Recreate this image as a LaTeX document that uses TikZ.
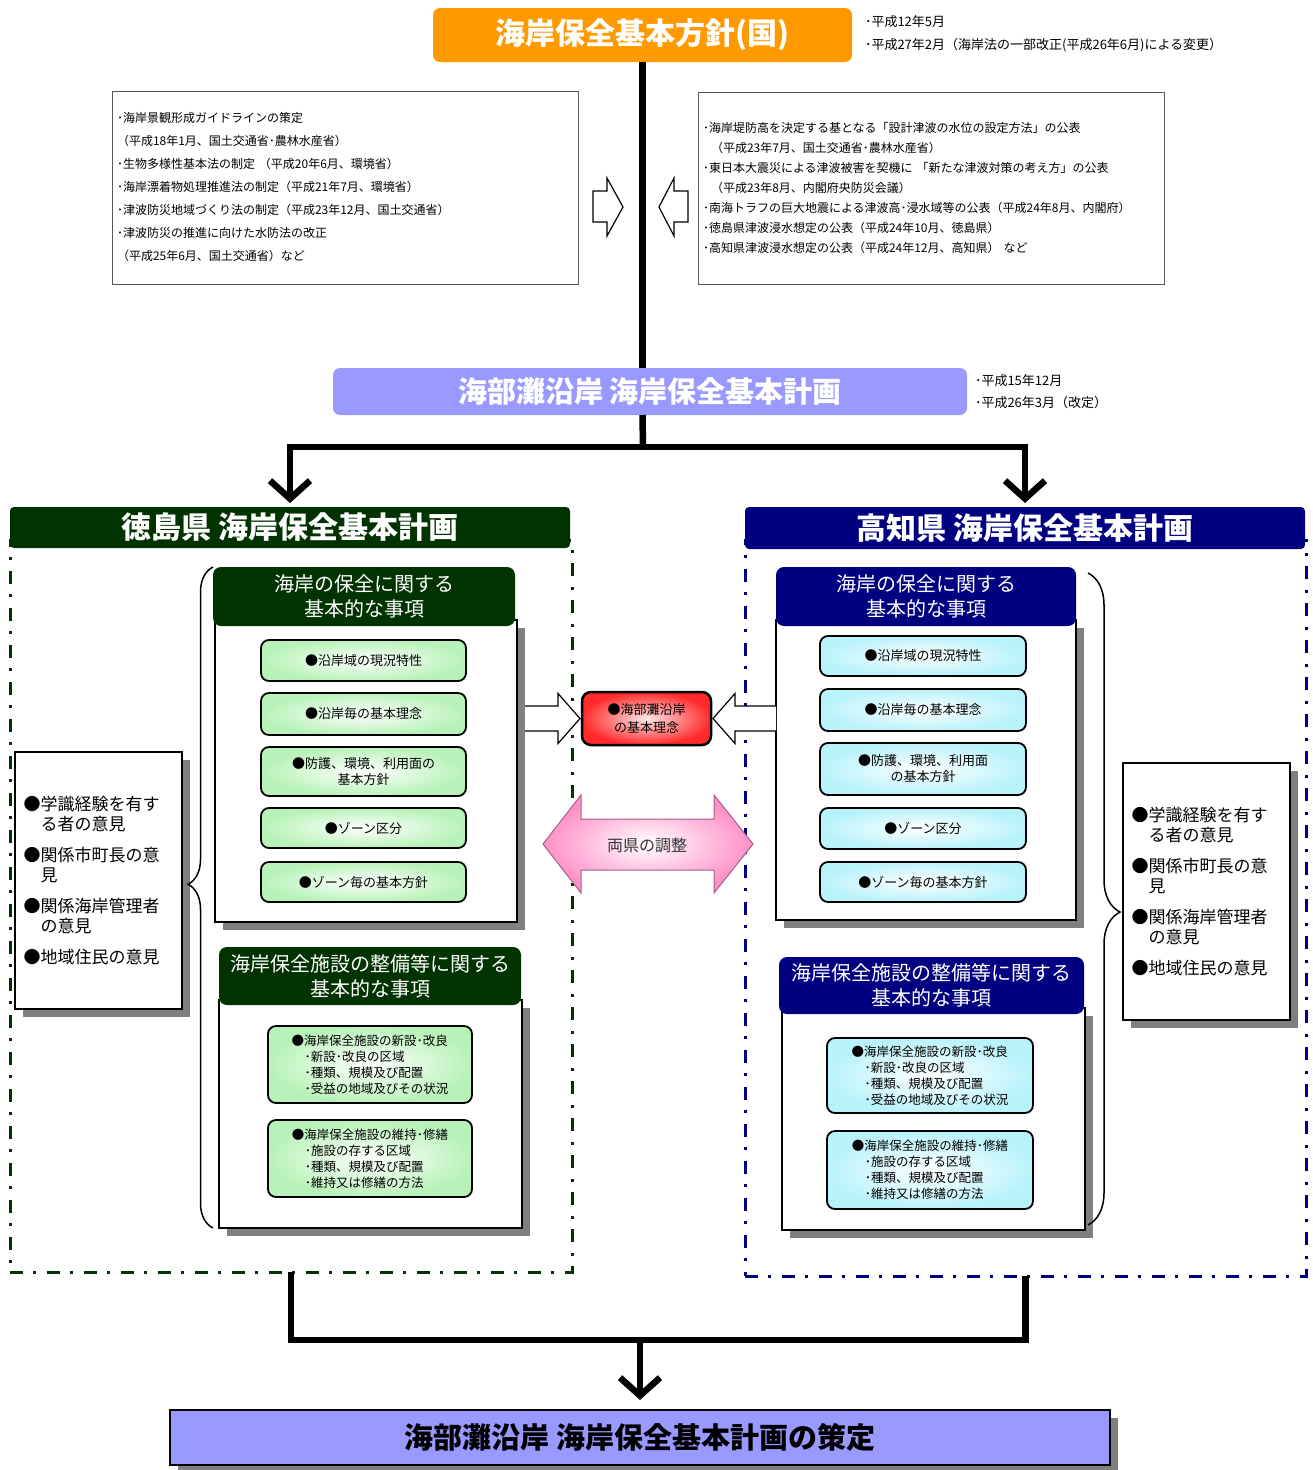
\documentclass[tikz,border=0pt]{standalone}
\usepackage{fontspec}
\setmainfont{Noto Sans CJK JP}
\usetikzlibrary{arrows.meta,shadows,decorations.pathreplacing,calc}
\definecolor{orng}{HTML}{FF9900}
\definecolor{lav}{HTML}{9999FF}
\definecolor{dgreen}{HTML}{003300}
\definecolor{navyb}{HTML}{000080}
\definecolor{lgreen}{HTML}{B8F2B8}
\definecolor{lcyan}{HTML}{B8F2FA}
\definecolor{redb}{HTML}{FF2B2B}
\definecolor{redin}{HTML}{FFE6E6}
\definecolor{pinkb}{HTML}{FF8FC8}
\definecolor{pinkedge}{HTML}{A0608A}
\definecolor{shad}{HTML}{808080}
\newcommand\fsz[2]{\fontsize{#1}{#2}\selectfont}
\tikzset{
  vtip/.tip={Straight Barb[length=18pt,width=40pt]},
  conn/.style={line width=6.5pt},
  shadowed/.style={drop shadow={shadow xshift=8pt,shadow yshift=-8pt,fill=shad,opacity=1}},
  info/.style={draw=black!65,line width=1pt,fill=white,align=left,inner xsep=5pt,inner ysep=0pt,text width=456pt,minimum height=193pt},
  banner/.style={rounded corners=7pt,text=white},
  note/.style={anchor=west,align=left,font={\fsz{13}{23}}},
  phead/.style={rounded corners=4pt,text=white,font={\fsz{30}{36}\bfseries}},
  panel/.style={line width=3pt,dash pattern=on 13pt off 10pt on 3pt off 11pt},
  grp/.style={draw,line width=1.8pt,fill=white,shadowed},
  ghead/.style={rounded corners=8pt,text=white,align=center,font={\fsz{20}{25}}},
  item/.style={draw,line width=1.8pt,rounded corners=8pt,align=center,inner color=white,outer color=#1,font={\fsz{13}{16}}},
  sub/.style={item=#1,align=left,font={\fsz{12.5}{16}}},
  opbox/.style={draw,line width=1.8pt,fill=white,shadowed,minimum width=167pt,minimum height=257pt,text width=150pt,align=left,font={\fsz{17}{20}}},
  hollow/.style={draw=black,fill=white,line width=1.2pt,line join=miter},
  bracey/.style={decorate,decoration={brace,amplitude=#1,aspect=0.52},line width=1.5pt},
}
\begin{document}
\begin{tikzpicture}[x=1pt,y=-1pt,every node/.style={inner sep=0pt,outer sep=0pt}]
\useasboundingbox (0,0) rectangle (1313,1470);

% top
\node[banner,fill=orng,minimum width=419pt,minimum height=54pt,font={\fsz{30}{36}\bfseries}] (nat) at (642.5,35) {海岸保全基本方針(国)};
\node[note] (natn) at (865,34) {･平成12年5月\\･平成27年2月（海岸法の一部改正(平成26年6月)による変更）};

\node[info,font={\fsz{12}{23}}] (infoL) at (345,187.5) {･海岸景観形成ガイドラインの策定\\（平成18年1月、国土交通省･農林水産省）\\･生物多様性基本法の制定 （平成20年6月、環境省）\\･海岸漂着物処理推進法の制定（平成21年7月、環境省）\\･津波防災地域づくり法の制定（平成23年12月、国土交通省）\\･津波防災の推進に向けた水防法の改正\\（平成25年6月、国土交通省）など};
\node[info,font={\fsz{12}{20}},minimum height=192pt] (infoR) at (931,188) {･海岸堤防高を決定する基となる「設計津波の水位の設定方法」の公表\\\hspace*{8pt}（平成23年7月、国土交通省･農林水産省）\\･東日本大震災による津波被害を契機に 「新たな津波対策の考え方」の公表\\\hspace*{8pt}（平成23年8月、内閣府央防災会議）\\･南海トラフの巨大地震による津波高･浸水域等の公表（平成24年8月、内閣府）\\･徳島県津波浸水想定の公表（平成24年10月、徳島県）\\･高知県津波浸水想定の公表（平成24年12月、高知県） など};

\draw[hollow] (593,191) -- (607,191) -- (607,178) -- (623,207) -- (607,236) -- (607,222) -- (593,222) -- cycle;
\draw[hollow] (688,191) -- (674,191) -- (674,178) -- (659,207) -- (674,236) -- (674,222) -- (688,222) -- cycle;

\node[banner,fill=lav,minimum width=634pt,minimum height=47pt,font={\fsz{29}{34}\bfseries}] (plan) at (650,391.5) {海部灘沿岸 海岸保全基本計画};
\node[note,font={\fsz{13}{22}}] (plann) at (975,392) {･平成15年12月\\･平成26年3月（改定）};

\draw[conn] (nat.south) -- (nat.south |- plan.north);

% panels
\node[panel,draw=dgreen,minimum width=562pt,minimum height=732pt] (pL) at (291,906) {};
\node[panel,draw=navyb,minimum width=561pt,minimum height=736pt] (pR) at (1025.5,908) {};
\node[phead,fill=dgreen,minimum width=560pt,minimum height=41pt] (hL) at (290,527.5) {徳島県 海岸保全基本計画};
\node[phead,fill=navyb,minimum width=560pt,minimum height=42pt] (hR) at (1025,528) {高知県 海岸保全基本計画};

\coordinate (jt) at (643,447);
\draw[conn] (nat.south |- plan.south) -- (jt);
\draw[conn,-{vtip},shorten >=4pt] (jt) -| (hL.north);
\draw[conn,-{vtip},shorten >=4pt] (jt) -| (hR.north);

% Tokushima groups
\node[grp,minimum width=302pt,minimum height=302pt] (gL1) at (366,771) {};
\node[ghead,fill=dgreen,minimum width=302pt,minimum height=59pt] (hL1) at (364,596.5) {海岸の保全に関する\\基本的な事項};
\node[item=lgreen,minimum width=205pt,minimum height=41pt] (a1) at (363.5,660.5) {●沿岸域の現況特性};
\node[item=lgreen,minimum width=205pt,minimum height=42pt] (a2) at (363.5,714) {●沿岸毎の基本理念};
\node[item=lgreen,minimum width=205pt,minimum height=49pt] (a3) at (363.5,771.5) {●防護、環境、利用面の\\基本方針};
\node[item=lgreen,minimum width=205pt,minimum height=40pt] (a4) at (363.5,828) {●ゾーン区分};
\node[item=lgreen,minimum width=205pt,minimum height=40pt] (a5) at (363.5,882) {●ゾーン毎の基本方針};

\node[grp,minimum width=303pt,minimum height=228pt] (gL2) at (370.5,1114) {};
\node[ghead,fill=dgreen,minimum width=302pt,minimum height=58pt] (hL2) at (370,976) {海岸保全施設の整備等に関する\\基本的な事項};
\node[sub=lgreen,minimum width=204pt,minimum height=77pt] (b1) at (370,1064.5) {●海岸保全施設の新設･改良\\\hspace*{13pt}･新設･改良の区域\\\hspace*{13pt}･種類、規模及び配置\\\hspace*{13pt}･受益の地域及びその状況};
\node[sub=lgreen,minimum width=204pt,minimum height=77pt] (b2) at (370,1158.5) {●海岸保全施設の維持･修繕\\\hspace*{13pt}･施設の存する区域\\\hspace*{13pt}･種類、規模及び配置\\\hspace*{13pt}･維持又は修繕の方法};

% Kochi groups
\node[grp,minimum width=300pt,minimum height=300pt] (gR1) at (926,770) {};
\node[ghead,fill=navyb,minimum width=300pt,minimum height=59pt] (hR1) at (926,596.5) {海岸の保全に関する\\基本的な事項};
\node[item=lcyan,minimum width=206pt,minimum height=40pt] (c1) at (923,656) {●沿岸域の現況特性};
\node[item=lcyan,minimum width=206pt,minimum height=42pt] (c2) at (923,710) {●沿岸毎の基本理念};
\node[item=lcyan,minimum width=206pt,minimum height=52pt] (c3) at (923,769) {●防護、環境、利用面\\の基本方針};
\node[item=lcyan,minimum width=206pt,minimum height=41pt] (c4) at (923,828.5) {●ゾーン区分};
\node[item=lcyan,minimum width=206pt,minimum height=40pt] (c5) at (923,882) {●ゾーン毎の基本方針};

\node[grp,minimum width=303pt,minimum height=222pt] (gR2) at (933.5,1119) {};
\node[ghead,fill=navyb,minimum width=305pt,minimum height=57pt] (hR2) at (931.5,985.5) {海岸保全施設の整備等に関する\\基本的な事項};
\node[sub=lcyan,minimum width=206pt,minimum height=75pt] (d1) at (930,1075.5) {●海岸保全施設の新設･改良\\\hspace*{13pt}･新設･改良の区域\\\hspace*{13pt}･種類、規模及び配置\\\hspace*{13pt}･受益の地域及びその状況};
\node[sub=lcyan,minimum width=206pt,minimum height=78pt] (d2) at (930,1170) {●海岸保全施設の維持･修繕\\\hspace*{13pt}･施設の存する区域\\\hspace*{13pt}･種類、規模及び配置\\\hspace*{13pt}･維持又は修繕の方法};

% opinions
\node[opbox] (opL) at (98.5,880.5) {●学識経験を有す\\\hspace*{17pt}る者の意見\\[11pt]●関係市町長の意\\\hspace*{17pt}見\\[11pt]●関係海岸管理者\\\hspace*{17pt}の意見\\[11pt]●地域住民の意見};
\node[opbox] (opR) at (1206.5,891.5) {●学識経験を有す\\\hspace*{17pt}る者の意見\\[11pt]●関係市町長の意\\\hspace*{17pt}見\\[11pt]●関係海岸管理者\\\hspace*{17pt}の意見\\[11pt]●地域住民の意見};

% braces
\draw[bracey=25pt] (hL1.north west |- gL2.south) -- (hL1.north west);
\draw[bracey=32pt] (1088,573) -- (1088,1225);

% center
\node[draw,line width=2.5pt,rounded corners=9pt,inner color=redin,outer color=redb,minimum width=129pt,minimum height=53pt,align=center,font={\fsz{13}{18}}] (kihon) at (646.5,718.5) {●海部灘沿岸\\の基本理念};
\draw[hollow] ($(kihon.west -| gL1.east)+(8,-12.5)$) -- ($(kihon.west)+(-24,-12.5)$) -- ($(kihon.west)+(-24,-25)$) -- ($(kihon.west)+(-2,0)$) -- ($(kihon.west)+(-24,25)$) -- ($(kihon.west)+(-24,12.5)$) -- ($(kihon.west -| gL1.east)+(8,12.5)$);
\draw[hollow] ($(kihon.east -| gR1.west)+(0,-12.5)$) -- ($(kihon.east)+(24,-12.5)$) -- ($(kihon.east)+(24,-25)$) -- ($(kihon.east)+(2,0)$) -- ($(kihon.east)+(24,25)$) -- ($(kihon.east)+(24,12.5)$) -- ($(kihon.east -| gR1.west)+(0,12.5)$);

\shade[draw=pinkedge,line width=1pt,inner color=white,outer color=pinkb] (543,844) -- (581,795) -- (581,819) -- (714,819) -- (714,795) -- (753,844) -- (714,893) -- (714,870) -- (581,870) -- (581,893) -- cycle;
\node[font={\fsz{16}{20}},text=black!80] (chosei) at (647,845) {両県の調整};

% bottom
\node[fill=lav,draw,line width=2pt,shadowed,minimum width=940pt,minimum height=55pt,font={\fsz{29}{34}\bfseries}] (fin) at (640,1437.5) {海部灘沿岸 海岸保全基本計画の策定};
\coordinate (jb) at (640,1340);
\draw[conn] (pL.south) |- (jb) -| (pR.south);
\draw[conn,-{vtip},shorten >=10pt] (jb) -- (fin.north);
\end{tikzpicture}
\end{document}
